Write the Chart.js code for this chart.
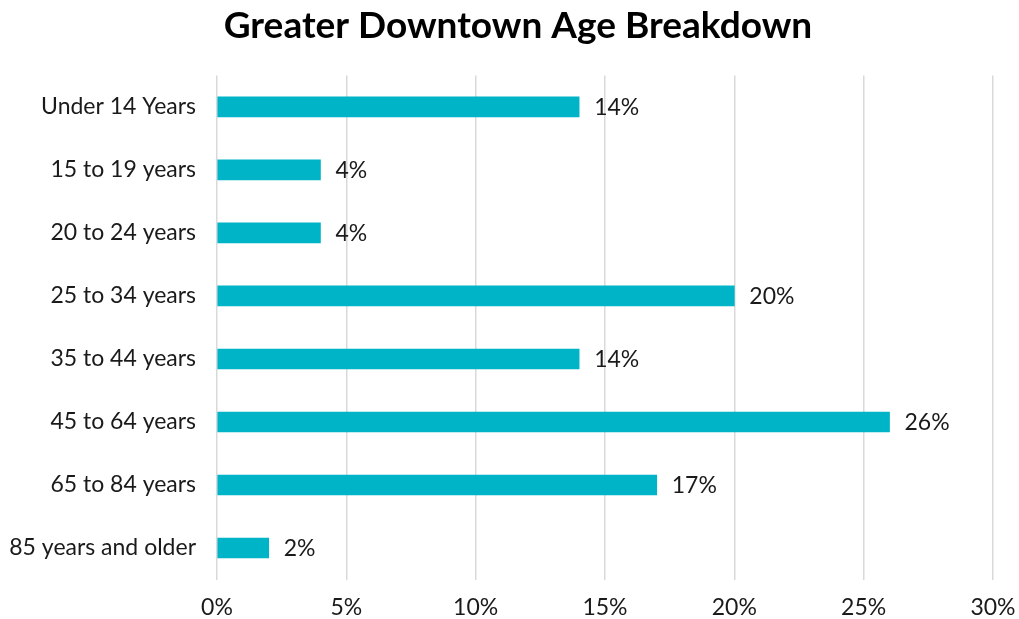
<!DOCTYPE html>
<html>
<head>
<meta charset="utf-8">
<script src="https://cdn.jsdelivr.net/npm/chart.js@4"></script>
<style>
  html, body { margin: 0; padding: 0; background: #fff; }
</style>
</head>
<body>
<canvas id="grafico" width="1019" height="619"></canvas>
<script>
// Datos
const ageGroups = ['Under 14 Years', '15 to 19 years', '20 to 24 years', '25 to 34 years',
                   '35 to 44 years', '45 to 64 years', '65 to 84 years', '85 years and older'];
const sharePct = [14, 4, 4, 20, 14, 26, 17, 2];
const xTicks = [0, 5, 10, 15, 20, 25, 30];

// Etiquetas de valor al final de cada barra
const barLabels = {
    id: 'barLabels',
    afterLayout(chart) {
        // el titulo original esta un poco desplazado a la derecha
        if (chart.titleBlock) chart.titleBlock.left = 17;
    },
    afterDatasetsDraw(chart) {
        const ctx = chart.ctx;
        const meta = chart.getDatasetMeta(0);
        ctx.save();
        ctx.font = '23px Lato';
        ctx.fillStyle = '#1a1a1a';
        ctx.textAlign = 'left';
        ctx.textBaseline = 'middle';
        meta.data.forEach((bar, i) => {
            ctx.fillText(sharePct[i] + '%', bar.x + 15, bar.y + 1);
        });
        ctx.restore();
    }
};

const ctx = document.getElementById('grafico').getContext('2d');
new Chart(ctx, {
    type: 'bar',
    data: {
        labels: ageGroups,
        datasets: [{
            data: sharePct,
            backgroundColor: '#00B4C8',
            borderWidth: 0,
            barThickness: 20
        }]
    },
    plugins: [barLabels],
    options: {
        indexAxis: 'y',
        responsive: false,
        animation: false,
        layout: { padding: 0 },
        plugins: {
            legend: { display: false },
            tooltip: { enabled: false },
            title: {
                display: true,
                text: 'Greater Downtown Age Breakdown',
                color: '#000',
                font: { family: 'Lato', size: 37, weight: 'bold' },
                padding: { top: 4, bottom: 27 }
            }
        },
        scales: {
            x: {
                min: 0,
                max: 30,
                afterBuildTicks: axis => { axis.ticks = xTicks.map(v => ({ value: v })); },
                afterFit: axis => {
                    axis.height = 39.5;
                    axis.paddingLeft = 0;
                    axis.paddingRight = 26;
                },
                grid: { color: '#d9d9d9', lineWidth: 1.5, drawTicks: false },
                border: { display: false },
                ticks: {
                    color: '#1a1a1a',
                    font: { family: 'Lato', size: 23 },
                    padding: 14,
                    maxRotation: 0,
                    callback: v => v + '%'
                }
            },
            y: {
                afterFit: axis => {
                    axis.width = 217;
                    axis.paddingTop = 0;
                    axis.paddingBottom = 0;
                },
                grid: { display: false },
                border: { display: false },
                ticks: {
                    color: '#1a1a1a',
                    font: { family: 'Lato', size: 23 },
                    padding: 13
                }
            }
        }
    }
});
</script>
</body>
</html>
